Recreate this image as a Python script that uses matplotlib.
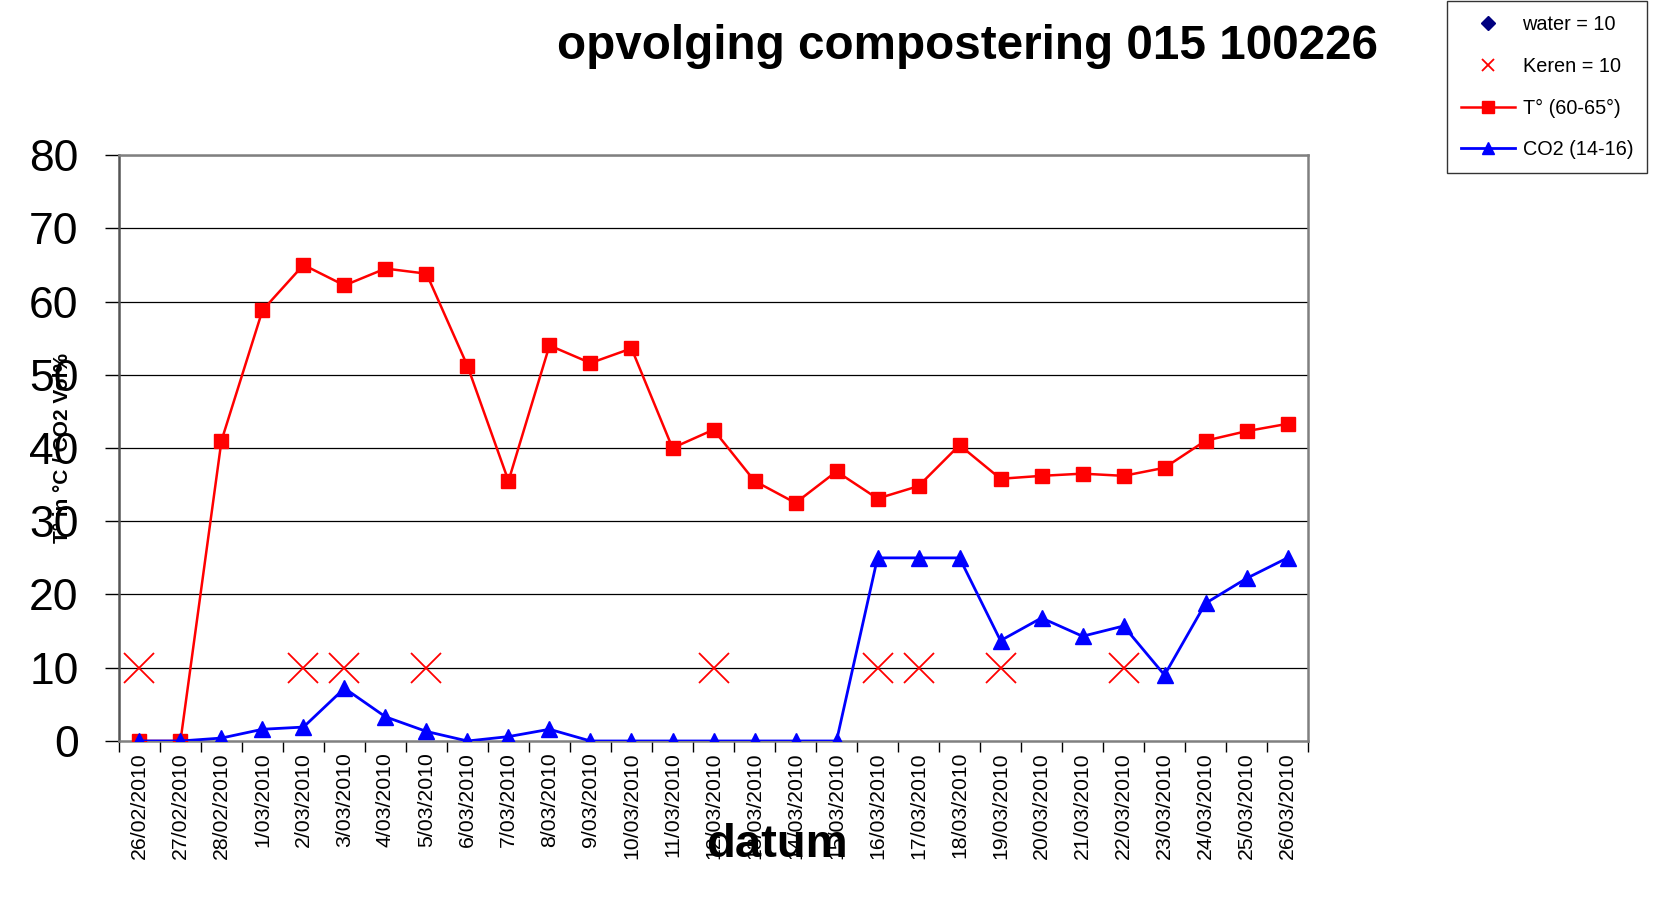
import matplotlib
matplotlib.use("Agg")
import matplotlib.pyplot as plt
from matplotlib.lines import Line2D
import numpy as np

plt.rcParams["font.family"] = ["Liberation Sans", "DejaVu Sans"]

dates = ["26/02/2010", "27/02/2010", "28/02/2010", "1/03/2010", "2/03/2010",
         "3/03/2010", "4/03/2010", "5/03/2010", "6/03/2010", "7/03/2010",
         "8/03/2010", "9/03/2010", "10/03/2010", "11/03/2010", "12/03/2010",
         "13/03/2010", "14/03/2010", "15/03/2010", "16/03/2010", "17/03/2010",
         "18/03/2010", "19/03/2010", "20/03/2010", "21/03/2010", "22/03/2010",
         "23/03/2010", "24/03/2010", "25/03/2010", "26/03/2010"]

temp = [0, 0, 41.0, 58.8, 65.0, 62.2, 64.5, 63.8, 51.2, 35.5,
        54.0, 51.6, 53.6, 40.0, 42.5, 35.5, 32.5, 36.8, 33.1, 34.8,
        40.4, 35.8, 36.2, 36.5, 36.2, 37.3, 41.0, 42.3, 43.3]

co2 = [0, 0, 0.4, 1.6, 1.9, 7.2, 3.3, 1.3, 0, 0.6,
       1.6, 0, 0, 0, 0, 0, 0, 0, 25, 25,
       25, 13.7, 16.8, 14.3, 15.7, 9.0, 18.8, 22.2, 25]

keren = [10, None, None, None, 10, 10, None, 10, None, None,
         None, None, None, None, 10, None, None, None, 10, 10,
         None, 10, None, None, 10, None, None, None, None]

water = []  # no water points in this period

x = np.arange(len(dates))
keren_y = np.array([np.nan if v is None else v for v in keren], dtype=float)

fig = plt.figure(figsize=(16.57, 9.13), dpi=100)
ax = fig.add_axes([0.0718, 0.1884, 0.7176, 0.6418])

for y in range(10, 90, 10):
    ax.axhline(y, color="black", lw=0.9, zorder=1)

ax.plot(x, keren_y, linestyle="none", marker="x", color="red",
        markersize=21, mew=1.3, zorder=3)
ax.plot(x, temp, color="red", lw=1.8, marker="s", markersize=10, zorder=4)
ax.plot(x, co2, color="blue", lw=2, marker="^", markersize=11, zorder=5)

ax.set_xlim(-0.5, len(dates) - 0.5)
ax.set_ylim(0, 80)
ax.set_yticks(range(0, 90, 10))
ax.tick_params(axis="y", labelsize=32, length=10, width=1, pad=19, direction="out")

ax.set_xticks(x)
ax.set_xticklabels(dates, rotation=90, fontsize=15.3)
ax.tick_params(axis="x", which="major", length=0, pad=8)
ax.set_xticks(np.arange(-0.5, len(dates), 1.0), minor=True)
ax.tick_params(axis="x", which="minor", length=8, width=1, direction="out")

for s in ["top", "right", "bottom"]:
    ax.spines[s].set_color("#808080")
    ax.spines[s].set_linewidth(1.8)
ax.spines["left"].set_color("#555555")
ax.spines["left"].set_linewidth(1.8)

fig.text(0.584, 0.949, "opvolging compostering 015 100226", fontsize=34.3,
         fontweight="bold", ha="center", va="center")
fig.text(0.469, 0.0745, "datum", fontsize=34, fontweight="bold",
         ha="center", va="center")
fig.text(0.038, 0.509, "T° in °C / CO2 Vol%", fontsize=15, fontweight="bold",
         rotation=90, ha="center", va="center")

handles = [
    Line2D([], [], linestyle="none", marker="D", color="#000080", markersize=7),
    Line2D([], [], linestyle="none", marker="x", color="red", markersize=9, mew=1.3),
    Line2D([], [], color="red", lw=1.8, marker="s", markersize=9),
    Line2D([], [], color="blue", lw=2, marker="^", markersize=9),
]
labels = ["water = 10", "Keren = 10", "T° (60-65°)", "CO2 (14-16)"]
leg = fig.legend(handles, labels, loc="upper right", bbox_to_anchor=(0.994, 0.999),
                 bbox_transform=fig.transFigure, borderaxespad=0, fontsize=14.3,
                 frameon=True, fancybox=False, edgecolor="black",
                 handlelength=2.7, handletextpad=0.4, labelspacing=1.15,
                 borderpad=0.7)
leg.get_frame().set_linewidth(1)

fig.savefig("out.png", dpi=100)
